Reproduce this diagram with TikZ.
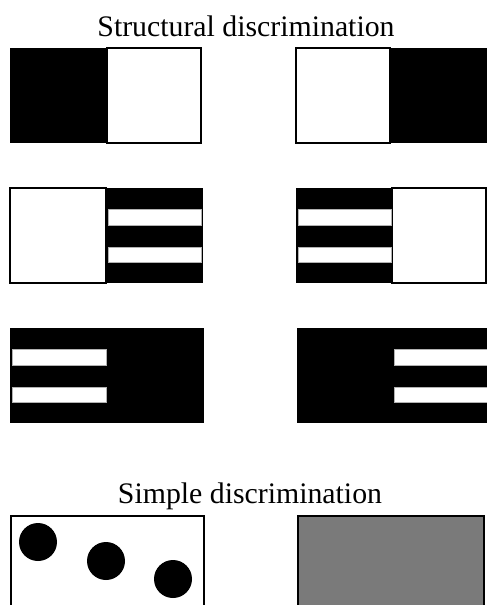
\documentclass[tikz,border=0pt]{standalone}
\usepackage{fontspec}
\setmainfont{Liberation Serif}
\usepackage{tikz}
\tikzset{
    panel/.style={draw, line width=1.4pt, fill=white},
    solid/.style={fill=black},
    stripe/.style={draw=white!70!black, line width=0.4pt, fill=white},
    dot/.style={fill=black},
    noise/.style={draw, line width=1.4pt, fill=black!52},
    heading/.style={anchor=base, font=\fontsize{29.8}{34}\selectfont}
}

\begin{document}
\begin{tikzpicture}[x=1pt, y=-1pt]

    % --- Marco ---
    \useasboundingbox (0,0) rectangle (487,605);
    \clip (0,0) rectangle (487,605);

    % --- Titulo superior ---
    \node[heading] (title_struct) at (246,36) {Structural discrimination};

    % --- Fila 1: mitades ---
    \fill[solid] (10,48) rectangle (107,143);
    \draw[panel] (107,48) rectangle (201,143);
    \draw[panel] (296,48) rectangle (390,143);
    \fill[solid] (390,48) rectangle (487,143);

    % --- Fila 2: cuadro blanco + barras ---
    \draw[panel] (10,188) rectangle (106,283);
    \fill[solid] (106,188) rectangle (203,283);
    \fill[solid] (296,188) rectangle (392,283);
    \draw[panel] (392,188) rectangle (486,283);
    \foreach \ya/\yb in {209/225, 247/262} {
        \filldraw[stripe] (108,\ya) rectangle (201,\yb);
        \filldraw[stripe] (298,\ya) rectangle (391,\yb);
    }

    % --- Fila 3: todo negro + barras ---
    \fill[solid] (10,328) rectangle (204,423);
    \fill[solid] (297,328) rectangle (487,423);
    \foreach \ya/\yb in {349/365, 387/402} {
        \filldraw[stripe] (12,\ya) rectangle (106,\yb);
        \filldraw[stripe] (394,\ya) rectangle (489,\yb);
    }

    % --- Titulo inferior ---
    \node[heading] (title_simple) at (250,503) {Simple discrimination};

    % --- Fila 4: puntos y gris ---
    \draw[panel] (11,516) rectangle (204,612);
    \foreach \cx/\cy in {38/542, 106/561, 173/579} {
        \fill[dot] (\cx,\cy) circle (19);
    }
    \draw[noise] (298,516) rectangle (484,612);

\end{tikzpicture}
\end{document}
